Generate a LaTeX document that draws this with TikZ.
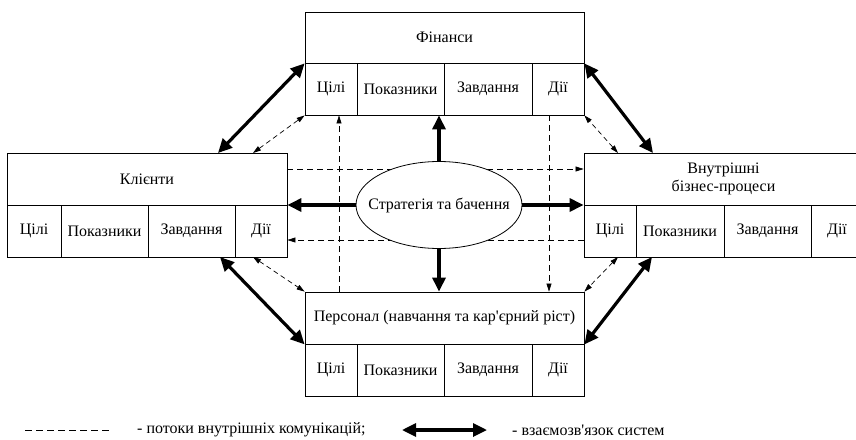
\documentclass[tikz,border=0pt]{standalone}
\usepackage{fontspec}
\setmainfont{Liberation Serif}
\newfontfamily\tnr{Liberation Serif}
\usetikzlibrary{arrows.meta,shapes.geometric}
\tikzset{
  txt/.style={font=\tnr\fontsize{16}{18.5}\selectfont},
  hdr/.style={draw,line width=0.8pt,inner sep=0pt,align=center,txt},
  cell/.style={draw,line width=0.8pt,inner sep=0pt,minimum height=52pt,txt},
  thickarr/.style={line width=3.2pt,-{Triangle[length=14pt,width=13pt]}},
  thickdbl/.style={line width=3.2pt,{Triangle[length=14pt,width=13pt]}-{Triangle[length=14pt,width=13pt]}},
  dasharr/.style={line width=0.7pt,dash pattern=on 6pt off 4pt,-{Triangle[length=8pt,width=5pt]}},
  dashdbl/.style={line width=0.7pt,dash pattern=on 5pt off 3.5pt,{Triangle[length=8pt,width=5pt]}-{Triangle[length=8pt,width=5pt]}},
  legtext/.style={anchor=west,inner sep=0pt,txt}
}
\begin{document}
\begin{tikzpicture}[x=1pt,y=-1pt]
\useasboundingbox (0,0) rectangle (856,439);
\clip (0,0) rectangle (856,439);
% Finance (top)
\node[hdr,minimum width=279pt,minimum height=51pt] (fin) at (444.5,37.5) {Фінанси};
\node[cell,minimum width=52pt] (finC) at (331,89) {Цілі};
\node[cell,minimum width=87pt] (finP) at (400.5,89) {Показники};
\node[cell,minimum width=88pt] (finZ) at (488,89) {Завдання};
\node[cell,minimum width=52pt] (finD) at (558,89) {Дії};
% Clients (left)
\node[hdr,minimum width=280pt,minimum height=52pt] (kli) at (147,179) {Клієнти};
\node[cell,minimum width=54pt] (kliC) at (34,231) {Цілі};
\node[cell,minimum width=87pt] (kliP) at (104.5,231) {Показники};
\node[cell,minimum width=87pt] (kliZ) at (191.5,231) {Завдання};
\node[cell,minimum width=52pt] (kliD) at (261,231) {Дії};
% Internal processes (right)
\node[hdr,minimum width=279pt,minimum height=52pt] (vbp) at (723.5,179) {Внутрішні\\бізнес-процеси};
\node[cell,minimum width=52pt] (vbpC) at (610,231) {Цілі};
\node[cell,minimum width=88pt] (vbpP) at (680,231) {Показники};
\node[cell,minimum width=87pt] (vbpZ) at (767.5,231) {Завдання};
\node[cell,minimum width=52pt] (vbpD) at (837,231) {Дії};
% Personnel (bottom)
\node[hdr,minimum width=279pt,minimum height=52pt] (per) at (444.5,318) {Персонал (навчання та кар\textquotesingle єрний ріст)};
\node[cell,minimum width=52pt] (perC) at (331,370) {Цілі};
\node[cell,minimum width=87pt] (perP) at (400.5,370) {Показники};
\node[cell,minimum width=88pt] (perZ) at (488,370) {Завдання};
\node[cell,minimum width=52pt] (perD) at (558,370) {Дії};
% free-end coordinates
\coordinate (v1) at (339,292);
\coordinate (v2) at (549,115);
\coordinate (h1) at (287,169);
\coordinate (h2) at (584,240);
\coordinate (kt) at (218,153);
\coordinate (kd) at (253,153);
\coordinate (vt) at (653,153);
\coordinate (vd) at (618,153);
\coordinate (kb) at (220,257);
\coordinate (kbd) at (253,257);
\coordinate (vb) at (652,257);
\coordinate (vbd) at (618,257);
% dashed flows
\draw[dasharr] (v1) -- (v1 |- finC.south);
\draw[dasharr] (v2) -- (v2 |- per.north);
\draw[dasharr] (h1) -- (h1 -| vbp.west);
\draw[dasharr] (h2) -- (h2 -| kliD.east);
% strategy ellipse
\node[ellipse,draw,line width=0.8pt,fill=white,minimum width=166pt,minimum height=87pt,inner sep=0pt] (str) at (439,205) {};
\node[txt,inner sep=0pt] (strt) at (str.center) {Стратегія та бачення};
% thick arrows from strategy
\draw[thickarr] (str.north) -- (str.north |- finP.south);
\draw[thickarr] (str.south) -- (str.south |- per.north);
\draw[thickarr] (str.west) -- (str.west -| kliD.east);
\draw[thickarr] (str.east) -- (str.east -| vbpC.west);
% diagonal thick double arrows
\draw[thickdbl] (kt) -- (fin.south west);
\draw[thickdbl] (vt) -- (fin.south east);
\draw[thickdbl] (kb) -- (per.south west);
\draw[thickdbl] (vb) -- (per.south east);
% diagonal dashed double arrows
\draw[dashdbl] (kd) -- (finC.south west);
\draw[dashdbl] (vd) -- (finD.south east);
\draw[dashdbl] (kbd) -- (per.north west);
\draw[dashdbl] (vbd) -- (per.north east);
% legend
\coordinate (l1) at (25,430);
\coordinate (l2) at (110,430);
\draw[line width=0.8pt,dash pattern=on 7pt off 4pt] (l1) -- (l2);
\node[legtext] (lt1) at (137,430) {- потоки внутрішніх комунікацій;};
\coordinate (l3) at (402,430);
\coordinate (l4) at (487,430);
\draw[thickdbl] (l3) -- (l4);
\node[legtext] (lt2) at (512,430) {- взаємозв\textquotesingle язок систем};
\end{tikzpicture}
\end{document}
